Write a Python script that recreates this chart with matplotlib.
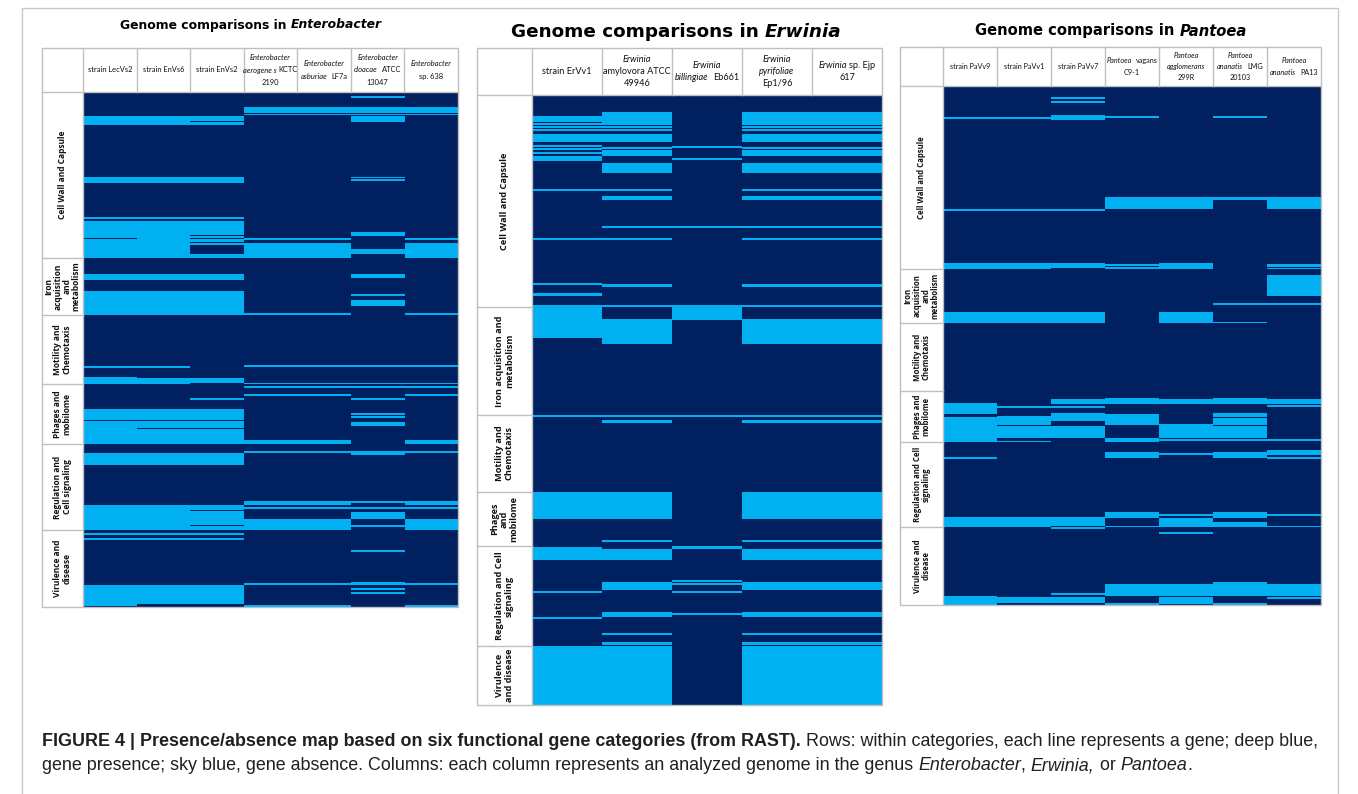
import numpy as np
import matplotlib.pyplot as plt
from matplotlib.colors import ListedColormap
from matplotlib.patches import Rectangle

W, H = 1358, 794
DEEP = '#002060'   # gene presence
SKY = '#00B0F0'    # gene absence
GRID = '#bfbfbf'

# ---------------- data ----------------
# header lines per genome: list of lines, each line = list of (text, style)
ent_headers = [
    [[('strain LecVs2', 'n')]],
    [[('strain EnVs6', 'n')]],
    [[('strain EnVs2', 'n')]],
    [[('Enterobacter', 'i')], [('aerogene s', 'i'), (' KCTC', 'n')], [('2190', 'n')]],
    [[('Enterobacter', 'i')], [('asburiae', 'i'), ('  LF7a', 'n')]],
    [[('Enterobacter', 'i')], [('cloacae', 'i'), ('  ATCC', 'n')], [('13047', 'n')]],
    [[('Enterobacter', 'i')], [('sp. 638', 'n')]],
]
ent_categories = ['Cell Wall and Capsule', 'Iron\nacquisition\nand\nmetabolism',
                  'Motility and\nChemotaxis', 'Phages and\nmobilome',
                  'Regulation and\nCell signaling', 'Virulence and\ndisease']
ent_bounds = [0, 166, 223, 292, 352, 438, 515]
ent_core = [(15, 20), (22, 22), (146, 147), (151, 165), (221, 222), (273, 274), (291, 291),
            (294, 295), (302, 303), (348, 351), (359, 360), (409, 412), (415, 416),
            (427, 437), (491, 492), (513, 514)]
ent_absent = [
    [(24, 32), (85, 90), (125, 126), (129, 145), (147, 165), (182, 187), (199, 222),
     (274, 275), (285, 291), (317, 327), (329, 351), (361, 372), (413, 437), (441, 442),
     (446, 447), (493, 513)],
    [(24, 32), (85, 90), (125, 126), (129, 165), (182, 187), (199, 222), (274, 275),
     (286, 291), (317, 327), (329, 335), (337, 351), (361, 372), (413, 437), (441, 442),
     (446, 447), (493, 511)],
    [(24, 28), (30, 32), (85, 90), (125, 126), (129, 142), (144, 145), (147, 149),
     (151, 152), (162, 165), (182, 187), (199, 222), (286, 290), (306, 307), (317, 327),
     (329, 335), (337, 351), (361, 372), (413, 417), (419, 432), (434, 437), (441, 442),
     (446, 447), (493, 511)],
    ent_core,
    ent_core,
    [(4, 5), (15, 20), (22, 22), (24, 29), (85, 85), (87, 88), (140, 143), (157, 161),
     (182, 185), (202, 203), (208, 213), (273, 274), (291, 291), (294, 295), (306, 307),
     (321, 322), (324, 325), (330, 333), (359, 362), (409, 410), (415, 416), (420, 426),
     (433, 434), (458, 459), (490, 492), (496, 497), (500, 501)],
    ent_core,
]

erw_headers = [
    [[('strain ErVv1', 'n')]],
    [[('Erwinia', 'i')], [('amylovora ATCC', 'n')], [('49946', 'n')]],
    [[('Erwinia', 'i')], [('billingiae', 'i'), ('  Eb661', 'n')]],
    [[('Erwinia', 'i')], [('pyrifoliae', 'i')], [('Ep1/96', 'n')]],
    [[('Erwinia', 'i'), (' sp. Ejp', 'n')], [('617', 'n')]],
]
erw_categories = ['Cell Wall and Capsule', 'Iron acquisition and\nmetabolism',
                  'Motility and\nChemotaxis', 'Phages\nand\nmobilome',
                  'Regulation and Cell\nsignaling', 'Virulence\nand disease']
erw_bounds = [0, 212, 320, 397, 451, 551, 610]
erw_core = [(17, 29), (31, 32), (34, 35), (39, 46), (52, 53), (55, 60), (68, 77), (94, 95),
            (101, 104), (131, 132), (143, 144), (189, 191), (210, 211), (224, 248),
            (320, 321), (325, 327), (397, 423), (445, 446), (454, 464), (487, 494),
            (517, 521), (538, 539), (547, 549), (551, 609)]
erw_absent = [
    [(21, 26), (28, 29), (31, 32), (34, 35), (39, 46), (50, 51), (53, 54), (57, 58),
     (61, 65), (94, 95), (143, 144), (188, 189), (198, 200), (210, 211), (212, 242),
     (320, 321), (397, 423), (452, 464), (496, 497), (522, 523), (551, 609)],
    erw_core,
    [(51, 52), (63, 64), (131, 132), (210, 211), (212, 224), (320, 321), (451, 453),
     (485, 486), (488, 489), (496, 497), (518, 519)],
    erw_core,
    erw_core,
]

pan_headers = [
    [[('strain PaVv9', 'n')]],
    [[('strain PaVv1', 'n')]],
    [[('strain PaVv7', 'n')]],
    [[('Pantoea', 'i'), ('  vagans', 'n')], [('C9-1', 'n')]],
    [[('Pantoea', 'i')], [('agglomerans', 'i')], [('299R', 'n')]],
    [[('Pantoea', 'i')], [('ananatis', 'i'), ('  LMG', 'n')], [('20103', 'n')]],
    [[('Pantoea', 'i')], [('ananatis', 'i'), ('  PA13', 'n')]],
]
pan_categories = ['Cell Wall and Capsule', 'Iron\nacquisition\nand\nmetabolism',
                  'Motility and\nChemotaxis', 'Phages and\nmobilome',
                  'Regulation and Cell\nsignaling', 'Virulence and\ndisease']
pan_bounds = [0, 183, 237, 305, 356, 441, 519]
pan_absent = [
    [(31, 32), (123, 124), (177, 182), (226, 236), (317, 327), (331, 355), (371, 372),
     (431, 440), (510, 518)],
    [(31, 32), (123, 124), (177, 182), (226, 236), (320, 321), (330, 338), (340, 351),
     (355, 355), (431, 440), (511, 516)],
    [(11, 12), (15, 16), (29, 33), (123, 124), (177, 181), (226, 236), (313, 317),
     (320, 321), (327, 334), (340, 351), (431, 439), (441, 442), (507, 508), (511, 516)],
    [(30, 31), (111, 122), (178, 179), (181, 182), (312, 317), (328, 338), (352, 355),
     (366, 371), (426, 431), (440, 440), (498, 509), (517, 518)],
    [(111, 122), (177, 182), (226, 236), (313, 317), (338, 351), (353, 354), (367, 368),
     (428, 429), (432, 440), (446, 447), (498, 509), (511, 517)],
    [(30, 31), (111, 113), (217, 218), (236, 236), (312, 317), (327, 330), (332, 338),
     (340, 351), (353, 354), (366, 371), (426, 427), (428, 431), (436, 440), (496, 497),
     (498, 509), (517, 518)],
    [(111, 122), (178, 180), (182, 182), (189, 209), (217, 218), (313, 317), (319, 320),
     (353, 354), (364, 368), (371, 372), (428, 429), (440, 440), (498, 509), (511, 512)],
]

titles = [('Enterobacter', 251, 25, 264), ('Erwinia', 676, 32, 331), ('Pantoea', 1111, 31, 273)]

caption1 = [('FIGURE 4 | Presence/absence map based on six functional gene categories (from RAST).', 'b'),
            (' Rows: within categories, each line represents a gene; deep blue,', 'n')]
caption2 = [('gene presence; sky blue, gene absence. Columns: each column represents an analyzed genome in the genus ', 'n'),
            ('Enterobacter', 'i'), (', ', 'n'), ('Erwinia,', 'i'), (' or ', 'n'), ('Pantoea', 'i'), ('.', 'n')]

# ---------------- drawing ----------------
fig = plt.figure(figsize=(W / 100, H / 100), dpi=100)
ov = fig.add_axes([0, 0, 1, 1], zorder=5)
ov.set_xlim(0, W)
ov.set_ylim(H, 0)
ov.axis('off')
ov.patch.set_alpha(0)
r = fig.canvas.get_renderer()


def style_kw(st):
    return dict(fontstyle='italic' if 'i' in st else 'normal',
                fontweight='bold' if 'b' in st else 'normal')


def piece_width(s, **kw):
    a = ov.text(0, 0, '|' + s + '|', **kw)
    b = ov.text(0, 0, '||', **kw)
    w = a.get_window_extent(r).width - b.get_window_extent(r).width
    a.remove()
    b.remove()
    return w


def rich_line(x, y, pieces, ha='center', **kw):
    widths = [piece_width(s, **style_kw(st), **kw) for s, st in pieces]
    start = x - sum(widths) / 2 if ha == 'center' else x
    for (s, st), w in zip(pieces, widths):
        lead = len(s) - len(s.lstrip(' '))
        off = piece_width(' ' * lead, **style_kw(st), **kw) if lead else 0
        ov.text(start + off, y, s.lstrip(' '), ha='left', va='center', **style_kw(st), **kw)
        start += w
    return sum(widths)


def absence_matrix(n_rows, absent):
    m = np.zeros((n_rows, len(absent)))
    for j, spans in enumerate(absent):
        for a, b in spans:
            m[a:b + 1, j] = 1
    return m


def panel(box, label_right, header_bottom, headers, categories, bounds, absent,
          hsize, lsize, line_gap, cat_gap):
    x0, y0, x1, y1 = box
    n_rows = bounds[-1]
    ncols = len(absent)
    ax = fig.add_axes([label_right / W, 1 - y1 / H, (x1 - label_right) / W, (y1 - header_bottom) / H],
                      zorder=1)
    m = absence_matrix(n_rows, absent)
    ax.imshow(m, cmap=ListedColormap([DEEP, SKY]), vmin=0, vmax=1, aspect='auto',
              interpolation='nearest', extent=(0, ncols, n_rows, 0))
    ax.axis('off')

    # table frame
    ov.add_patch(Rectangle((x0, y0), x1 - x0, y1 - y0, fill=False, ec=GRID, lw=1))
    ov.plot([label_right, label_right], [y0, y1], color=GRID, lw=1)
    ov.plot([x0, x1], [header_bottom, header_bottom], color=GRID, lw=1)
    cw = (x1 - label_right) / ncols
    for k in range(1, ncols):
        ov.plot([label_right + k * cw] * 2, [y0, header_bottom], color=GRID, lw=1)
    rh = (y1 - header_bottom) / n_rows
    for b in bounds[1:-1]:
        ov.plot([x0, label_right], [header_bottom + b * rh] * 2, color=GRID, lw=1)

    # header texts
    yc = (y0 + header_bottom) / 2
    for k, lines in enumerate(headers):
        xc = label_right + (k + 0.5) * cw
        n = len(lines)
        for i, line in enumerate(lines):
            yy = yc + (i - (n - 1) / 2) * line_gap
            rich_line(xc, yy, line, family='Lato', fontsize=hsize, color='#111111')

    # category labels
    for i, cat in enumerate(categories):
        ya = header_bottom + (bounds[i] + bounds[i + 1]) / 2 * rh
        ov.text((x0 + label_right) / 2, ya, cat, rotation=90, ha='center', va='center',
                family='Open Sans', fontweight='bold', fontsize=lsize, color='#111111',
                multialignment='center', linespacing=cat_gap)


panel((42, 48, 458, 607), 83, 92, ent_headers, ent_categories, ent_bounds, ent_absent,
      5.4, 6.0, 12.5, 1.0)
panel((477, 48, 882, 705), 532, 95, erw_headers, erw_categories, erw_bounds, erw_absent,
      6.6, 6.6, 12.5, 1.1)
panel((900, 47, 1321, 605), 943, 86, pan_headers, pan_categories, pan_bounds, pan_absent,
      5.2, 5.6, 11.5, 1.0)

# titles, sized to the reference width
for genus, xc, yc, target in titles:
    pieces = [('Genome comparisons in ', 'b'), (genus, 'bi')]
    w = sum(piece_width(s, **style_kw(st), family='DejaVu Sans', fontsize=10) for s, st in pieces)
    rich_line(xc, yc, pieces, family='DejaVu Sans', fontsize=10 * target / w, color='black')

# caption
w1 = sum(piece_width(s, **style_kw(st), family='Liberation Sans', fontsize=10) for s, st in caption1)
cap_size = 10 * 1276 / w1
rich_line(42, 742, caption1, ha='left', family='Liberation Sans', fontsize=cap_size, color='#231f20')
rich_line(42, 766, caption2, ha='left', family='Liberation Sans', fontsize=cap_size, color='#231f20')

# outer figure frame
ov.add_patch(Rectangle((22, 8), 1316, 800, fill=False, ec='#c8c8c8', lw=1, clip_on=False))

fig.savefig('out.png', dpi=100)
